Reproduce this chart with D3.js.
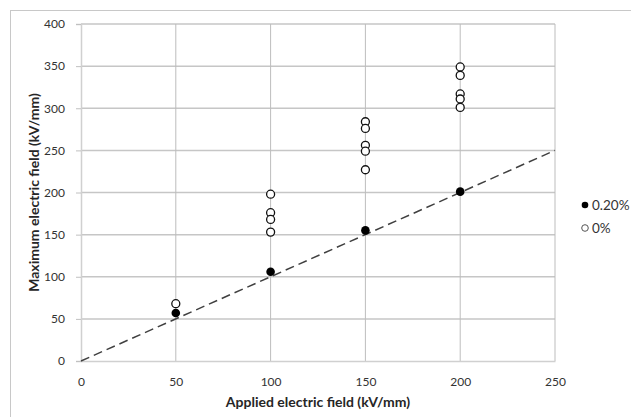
<!DOCTYPE html>
<html>
<head>
<meta charset="utf-8">
<script src="https://cdn.jsdelivr.net/npm/d3@7"></script>
<style>
  html, body { margin: 0; padding: 0; background: #fff; }
  svg { display: block; font-family: Lato, "Open Sans", sans-serif; }
</style>
</head>
<body>
<svg id="chart" width="631" height="417"></svg>
<script>
// ---- data ----
const seriesNames = ["0.20%", "0%"];
const filledX = [50, 100, 150, 200];
const filledY = [57, 106, 155, 201];
const openX = [50, 100, 100, 100, 100, 150, 150, 150, 150, 150, 200, 200, 200, 200, 200];
const openY = [68, 198, 176, 168, 153, 284, 276, 256, 249, 227, 349, 339, 317, 311, 301];
const refLineX = [0, 250];
const refLineY = [0, 250];
const xTicks = [0, 50, 100, 150, 200, 250];
const yTicks = [0, 50, 100, 150, 200, 250, 300, 350, 400];
const xTitle = "Applied electric field (kV/mm)";
const yTitle = "Maximum electric field (kV/mm)";

// ---- layout ----
const svg = d3.select("#chart");
const pL = 81, pR = 555, pT = 24, pB = 361;
const x = d3.scaleLinear().domain([0, 250]).range([pL, pR]);
const y = d3.scaleLinear().domain([0, 400]).range([pB, pT]);

// chart border
svg.append("rect").attr("x", 10.5).attr("y", 10.5).attr("width", 640).attr("height", 420)
  .attr("fill", "none").attr("stroke", "#c8c8c8").attr("stroke-width", 1);

// horizontal gridlines
svg.append("g").selectAll("line").data(yTicks.filter(d => d > 0)).join("line")
  .attr("x1", pL).attr("x2", pR)
  .attr("y1", d => y(d)).attr("y2", d => y(d))
  .attr("stroke", "#c6c6c6").attr("stroke-width", 1.5);

// vertical gridlines
svg.append("g").selectAll("line").data(xTicks.filter(d => d > 0)).join("line")
  .attr("x1", d => x(d)).attr("x2", d => x(d))
  .attr("y1", pT).attr("y2", pB)
  .attr("stroke", "#bdbdbd").attr("stroke-width", 1);

// y axis
const yAxis = svg.append("g").attr("transform", `translate(${pL},0)`)
  .call(d3.axisLeft(y).tickValues(yTicks).tickSize(5).tickPadding(11));
yAxis.select(".domain").attr("stroke", "#d0d0d0").attr("stroke-width", 1.5);
yAxis.selectAll(".tick line").attr("stroke", "#c0c0c0");
yAxis.selectAll("text").attr("font-size", 12).attr("fill", "#333").attr("font-family", "Lato, sans-serif");

// x axis
const xAxis = svg.append("g").attr("transform", `translate(0,${pB})`)
  .call(d3.axisBottom(x).tickValues(xTicks).tickSize(0).tickPadding(16).tickSizeOuter(0));
xAxis.select(".domain").attr("stroke", "#d0d0d0").attr("stroke-width", 1.5);
xAxis.selectAll("text").attr("font-size", 12).attr("fill", "#333").attr("font-family", "Lato, sans-serif");

// axis titles
svg.append("text").attr("x", (pL + pR) / 2).attr("y", 406.5)
  .attr("text-anchor", "middle").attr("font-size", 14).attr("font-weight", "bold")
  .attr("fill", "#262626").text(xTitle);
svg.append("text").attr("transform", `translate(38.5,${(pT + pB) / 2}) rotate(-90)`)
  .attr("text-anchor", "middle").attr("font-size", 14).attr("font-weight", "bold")
  .attr("fill", "#262626").text(yTitle);

// reference dashed line
svg.append("path")
  .datum(refLineX.map((d, i) => [d, refLineY[i]]))
  .attr("d", d3.line().x(d => x(d[0])).y(d => y(d[1])))
  .attr("fill", "none").attr("stroke", "#404040").attr("stroke-width", 1.5)
  .attr("stroke-dasharray", "9,5");

// open series (0%)
svg.append("g").selectAll("circle").data(openX.map((d, i) => [d, openY[i]])).join("circle")
  .attr("cx", d => x(d[0])).attr("cy", d => y(d[1])).attr("r", 4)
  .attr("fill", "#fff").attr("stroke", "#111").attr("stroke-width", 1.3);

// filled series (0.20%)
svg.append("g").selectAll("circle").data(filledX.map((d, i) => [d, filledY[i]])).join("circle")
  .attr("cx", d => x(d[0])).attr("cy", d => y(d[1])).attr("r", 4.3)
  .attr("fill", "#000");

// legend
const legend = svg.append("g");
const ly = [205, 228];
legend.append("circle").attr("cx", 585).attr("cy", ly[0]).attr("r", 3.3).attr("fill", "#000");
legend.append("circle").attr("cx", 585).attr("cy", ly[1]).attr("r", 3.3).attr("fill", "#fff")
  .attr("stroke", "#555").attr("stroke-width", 1);
legend.selectAll("text").data(seriesNames).join("text")
  .attr("x", 592).attr("y", (d, i) => ly[i]).attr("dy", "0.36em")
  .attr("font-size", 13.5).attr("fill", "#333").text(d => d);
</script>
</body>
</html>
